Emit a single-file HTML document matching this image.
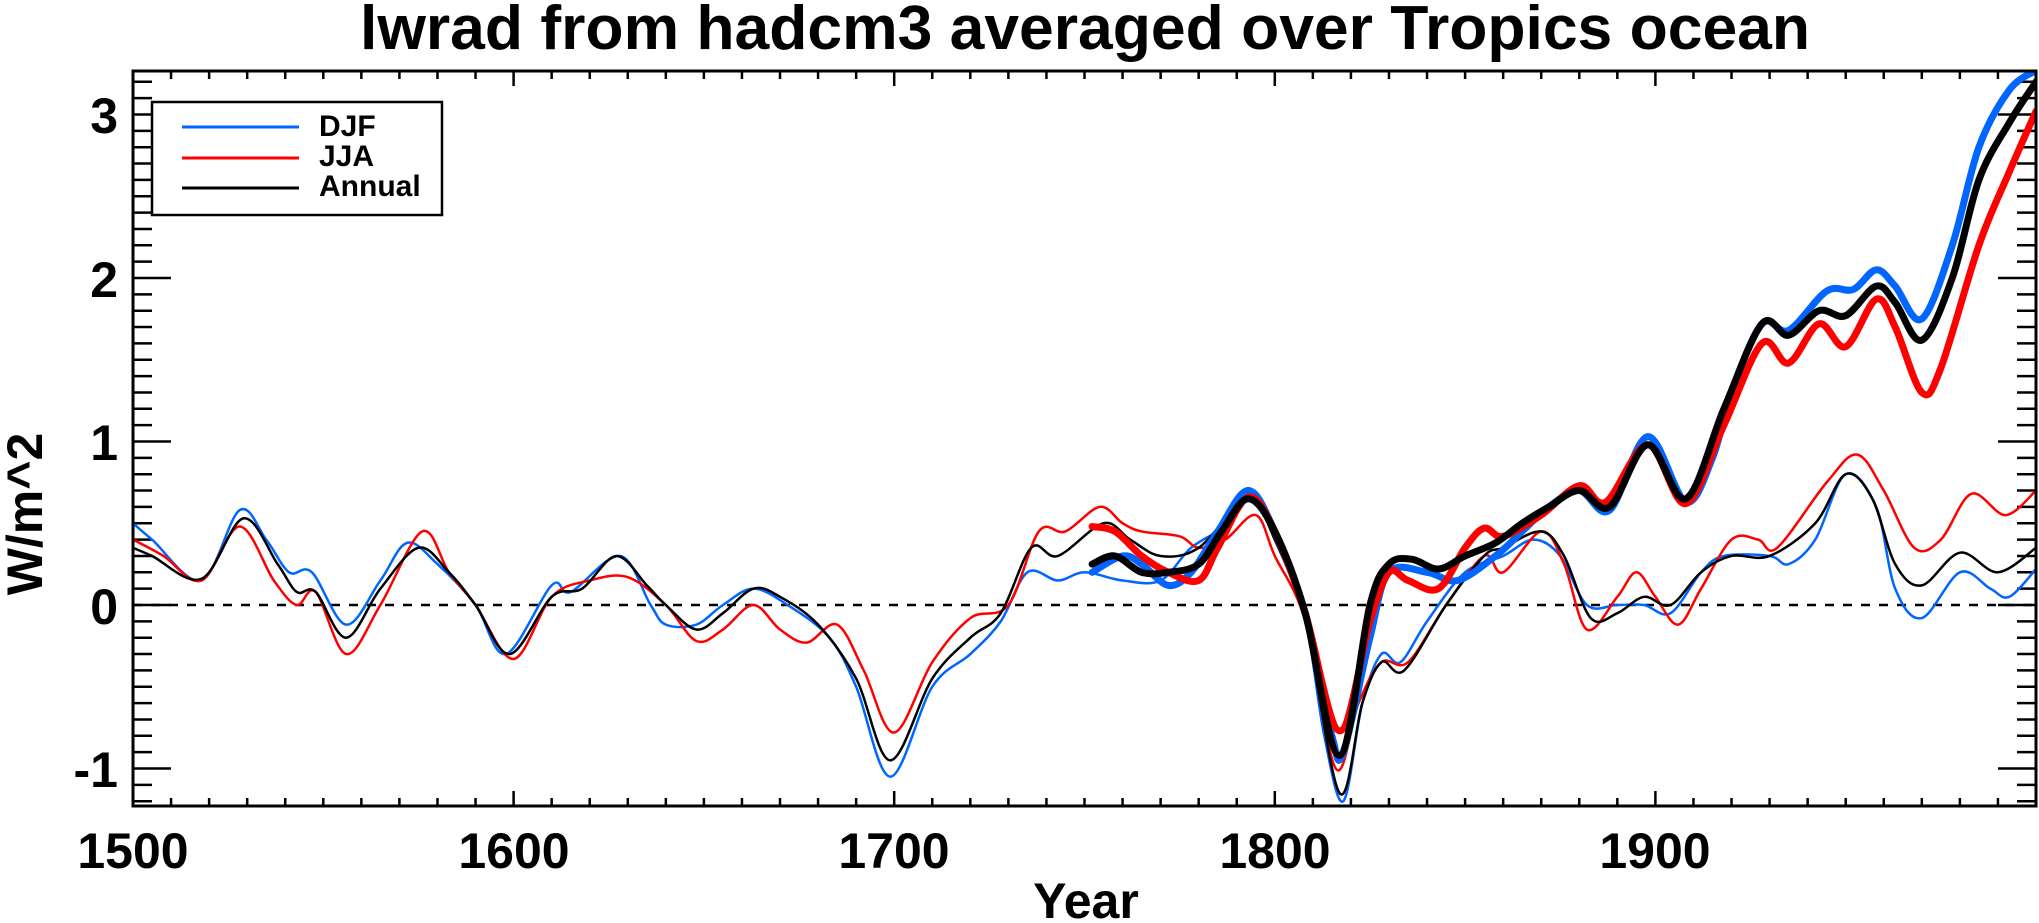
<!DOCTYPE html>
<html><head><meta charset="utf-8"><style>
html,body{margin:0;padding:0;background:#fff;}
svg{display:block;}
text{font-family:"Liberation Sans",Arial,sans-serif;font-weight:bold;fill:#000;}
</style></head><body>
<svg id="s" width="2039" height="923" viewBox="0 0 2039 923" xmlns="http://www.w3.org/2000/svg">
<defs><clipPath id="c"><rect x="133" y="71" width="1903" height="735"/></clipPath></defs>
<text x="1085" y="49" font-size="62" text-anchor="middle" textLength="1450" lengthAdjust="spacingAndGlyphs">lwrad from hadcm3 averaged over Tropics ocean</text>
<g id="ax"></g>
<g id="curves" clip-path="url(#c)" fill="none" stroke-linejoin="round" stroke-linecap="round"></g>
<rect x="133" y="71" width="1903" height="735" fill="none" stroke="#000" stroke-width="3"/>
<g font-size="50">
<text x="133" y="868" text-anchor="middle">1500</text>
<text x="514" y="868" text-anchor="middle">1600</text>
<text x="894" y="868" text-anchor="middle">1700</text>
<text x="1275" y="868" text-anchor="middle">1800</text>
<text x="1655" y="868" text-anchor="middle">1900</text>
<text x="118" y="133" text-anchor="end">3</text>
<text x="118" y="297" text-anchor="end">2</text>
<text x="118" y="460" text-anchor="end">1</text>
<text x="118" y="624" text-anchor="end">0</text>
<text x="118" y="787" text-anchor="end">-1</text>
<text x="1086" y="918" text-anchor="middle">Year</text>
<text transform="translate(42,514) rotate(-90)" text-anchor="middle">W/m^2</text>
</g>
<rect x="152" y="102" width="290" height="113" fill="#fff" stroke="#000" stroke-width="2.5"/>
<line x1="182" y1="127" x2="299" y2="127" stroke="#0066ff" stroke-width="3"/>
<line x1="182" y1="158" x2="299" y2="158" stroke="#ff0000" stroke-width="3"/>
<line x1="182" y1="188" x2="299" y2="188" stroke="#000" stroke-width="3"/>
<g font-size="30">
<text x="319" y="136">DJF</text>
<text x="319" y="166">JJA</text>
<text x="319" y="196">Annual</text>
</g>
</svg>
<script>
const X=y=>133+(y-1500)*3.806, Y=v=>605-v*163.5;
const ns="http://www.w3.org/2000/svg";
function el(p,t,a){const e=document.createElementNS(ns,t);for(const k in a)e.setAttribute(k,a[k]);p.appendChild(e);return e;}
const ax=document.getElementById('ax');
let d="";
for(let yr=1510;yr<2000;yr+=10){const x=X(yr);const L=(yr%100==0)?15:8;d+=`M${x},806v${-L}M${x},71v${L}`;}
for(let i=-12;i<=32;i++){const v=i/10;const y=Y(v);if(y<72||y>805)continue;const L=(i%10==0)?38:19;d+=`M133,${y}h${L}M2036,${y}h${-L}`;}
el(ax,'path',{d:d,stroke:'#000','stroke-width':2.5,fill:'none'});
el(ax,'line',{x1:133,y1:Y(0),x2:2036,y2:Y(0),stroke:'#000','stroke-width':2.5,'stroke-dasharray':'9,9'});
function path(pts){
 const P=[];for(let i=0;i<pts.length;i+=2)P.push([X(pts[i]),Y(pts[i+1])]);
 let s=`M${P[0][0]},${P[0][1]}`;
 for(let i=0;i<P.length-1;i++){const p0=P[Math.max(0,i-1)],p1=P[i],p2=P[i+1],p3=P[Math.min(P.length-1,i+2)];
  s+=`C${p1[0]+(p2[0]-p0[0])/6},${p1[1]+(p2[1]-p0[1])/6} ${p2[0]-(p3[0]-p1[0])/6},${p2[1]-(p3[1]-p1[1])/6} ${p2[0]},${p2[1]}`;}
 return s;}
const g=document.getElementById('curves');
const blueT=[1500,0.5,1505,0.4,1518,0.15,1528,0.58,1535,0.4,1541,0.2,1547,0.2,1556,-0.12,1565,0.15,1572,0.38,1580,0.25,1590,0.0,1598,-0.3,1610,0.12,1615,0.08,1628,0.3,1636,0.0,1640,-0.12,1648,-0.12,1655,0.0,1663,0.1,1672,0.0,1683,-0.2,1690,-0.5,1699,-1.05,1710,-0.5,1720,-0.3,1728,-0.1,1735,0.2,1743,0.15,1750,0.2,1760,0.15,1770,0.15,1778,0.35,1788,0.5,1793,0.7,1800,0.4,1808,-0.1,1813,-0.8,1818,-1.2,1823,-0.6,1828,-0.3,1833,-0.35,1840,-0.1,1850,0.2,1860,0.3,1868,0.4,1875,0.3,1882,0.0,1890,0.0,1897,0.0,1904,-0.05,1912,0.2,1918,0.3,1930,0.3,1935,0.25,1942,0.4,1950,0.8,1958,0.6,1963,0.1,1970,-0.08,1980,0.2,1988,0.1,1993,0.05,2000,0.22];
const redT=[1500,0.4,1508,0.3,1518,0.15,1528,0.48,1537,0.15,1543,0.0,1548,0.08,1556,-0.3,1565,0.0,1576,0.45,1583,0.2,1590,0.0,1600,-0.33,1610,0.05,1620,0.15,1630,0.17,1640,0.0,1648,-0.22,1655,-0.15,1663,0.0,1670,-0.15,1677,-0.23,1685,-0.12,1692,-0.4,1700,-0.78,1710,-0.35,1720,-0.08,1730,0.0,1738,0.45,1745,0.45,1754,0.6,1760,0.5,1765,0.45,1775,0.42,1780,0.35,1787,0.4,1795,0.55,1800,0.3,1808,-0.1,1816,-1.0,1822,-0.6,1828,-0.35,1835,-0.35,1845,0.0,1855,0.3,1860,0.2,1870,0.45,1876,0.25,1882,-0.15,1890,0.05,1895,0.2,1900,0.05,1906,-0.12,1912,0.1,1920,0.4,1927,0.4,1932,0.35,1945,0.75,1953,0.92,1960,0.7,1968,0.35,1975,0.4,1983,0.68,1992,0.55,2000,0.7];
const blkT=[1500,0.35,1505,0.3,1518,0.16,1529,0.53,1538,0.25,1543,0.08,1548,0.08,1556,-0.2,1565,0.1,1575,0.35,1583,0.2,1590,0.0,1599,-0.3,1610,0.05,1618,0.1,1627,0.3,1635,0.12,1640,0.0,1648,-0.15,1655,-0.05,1663,0.1,1670,0.05,1680,-0.12,1690,-0.45,1699,-0.95,1710,-0.45,1720,-0.2,1728,-0.05,1736,0.35,1743,0.3,1755,0.5,1762,0.4,1770,0.3,1780,0.35,1793,0.65,1800,0.4,1808,-0.1,1817,-1.15,1823,-0.6,1828,-0.35,1834,-0.4,1845,0.0,1855,0.3,1860,0.35,1870,0.45,1876,0.3,1883,-0.08,1890,-0.05,1897,0.05,1904,0.0,1912,0.2,1920,0.3,1930,0.3,1942,0.5,1950,0.8,1957,0.65,1963,0.25,1970,0.12,1980,0.32,1990,0.2,2000,0.35];
const blueK=[1752,0.2,1760,0.3,1765,0.25,1772,0.12,1778,0.2,1785,0.45,1793,0.7,1800,0.45,1808,-0.05,1815,-0.8,1818,-0.9,1825,-0.2,1830,0.2,1840,0.2,1848,0.15,1858,0.3,1865,0.45,1872,0.6,1880,0.7,1888,0.58,1898,1.03,1908,0.63,1915,0.9,1920,1.3,1928,1.72,1935,1.68,1945,1.92,1952,1.93,1958,2.05,1963,1.95,1970,1.75,1978,2.2,1985,2.8,1993,3.15,2000,3.27];
const redK=[1752,0.48,1758,0.45,1765,0.3,1772,0.2,1780,0.15,1785,0.35,1793,0.66,1800,0.45,1808,-0.05,1817,-0.77,1825,-0.1,1830,0.2,1835,0.15,1843,0.1,1850,0.35,1855,0.47,1860,0.42,1870,0.55,1880,0.73,1887,0.63,1898,0.98,1908,0.62,1918,1.1,1928,1.6,1935,1.48,1943,1.72,1950,1.58,1958,1.87,1963,1.7,1970,1.3,1975,1.45,1985,2.2,1993,2.65,2000,3.02];
const blkK=[1752,0.25,1758,0.3,1765,0.2,1772,0.2,1780,0.25,1786,0.45,1793,0.65,1800,0.45,1808,-0.05,1817,-0.92,1825,0.0,1830,0.25,1836,0.28,1843,0.22,1850,0.3,1858,0.38,1865,0.5,1872,0.6,1880,0.7,1888,0.6,1898,0.98,1908,0.65,1918,1.2,1928,1.72,1935,1.65,1943,1.8,1950,1.77,1958,1.95,1963,1.85,1970,1.62,1978,2.0,1985,2.6,1993,2.95,2000,3.2];
[[blueT,'#0066ff',2.5],[redT,'#ff0000',2.5],[blkT,'#000',2.5],[blueK,'#0066ff',7],[redK,'#ff0000',7],[blkK,'#000',7]].forEach(([p,c,w])=>el(g,'path',{d:path(p),stroke:c,'stroke-width':w}));
</script>
</body></html>
